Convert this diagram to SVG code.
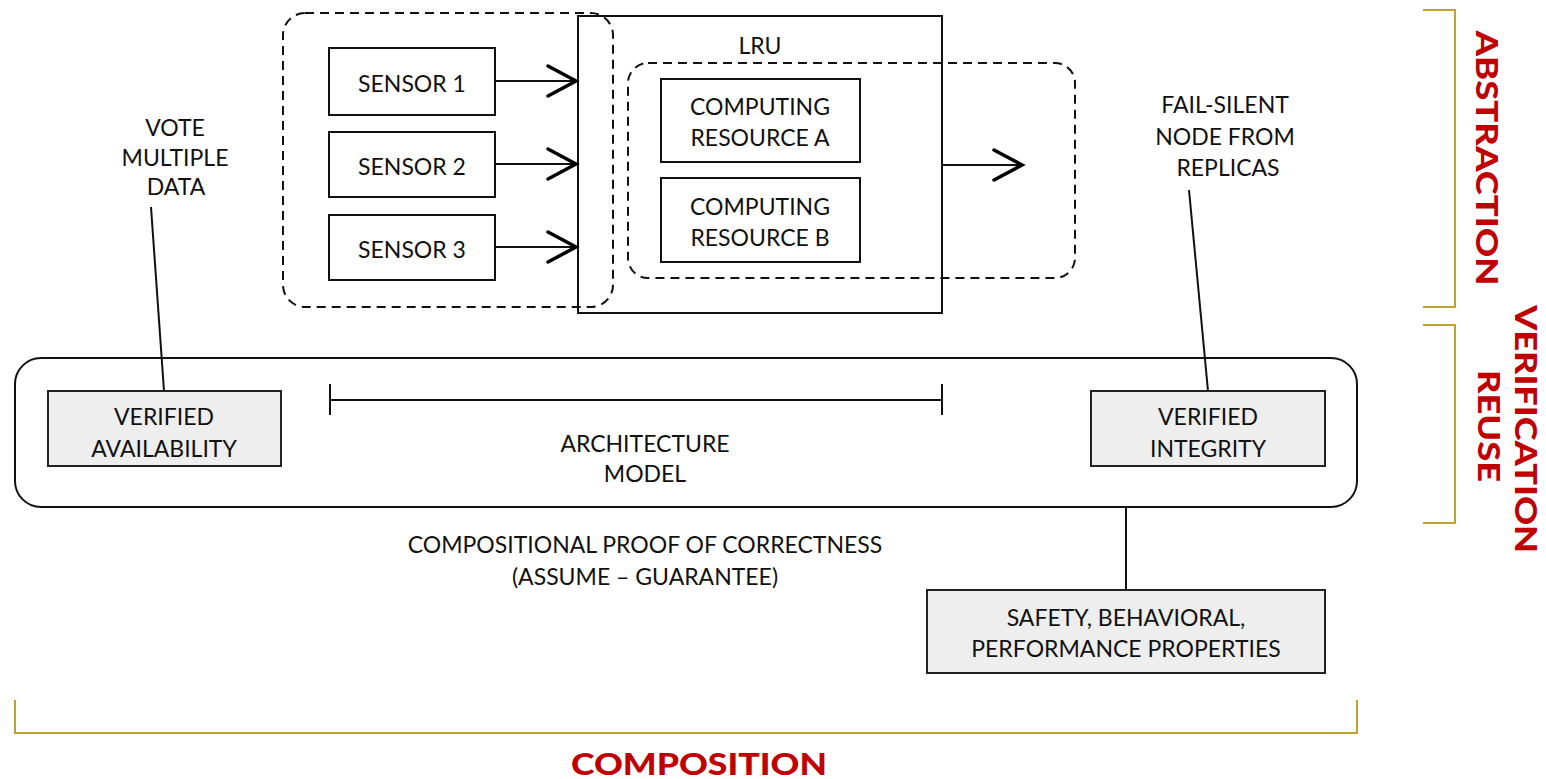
<svg xmlns="http://www.w3.org/2000/svg" width="1546" height="779" viewBox="0 0 1546 779">
<defs>
<style>
.t{font-family:Lato,"Open Sans","Liberation Sans",sans-serif;font-size:23px;fill:#111;text-anchor:middle}
.b{fill:#fff;stroke:#111;stroke-width:2}
.g{fill:#eeeeee;stroke:#222;stroke-width:2}
.d{fill:none;stroke:#111;stroke-width:2;stroke-dasharray:9 6}
.l{fill:none;stroke:#111;stroke-width:2}
.ah{fill:none;stroke:#000;stroke-width:3.5;stroke-linecap:round;stroke-linejoin:miter}
.br{fill:none;stroke:#c2a22c;stroke-width:2}
.r{font-family:Lato,"Open Sans","Liberation Sans",sans-serif;font-weight:900;font-size:31px;fill:#c00000;text-anchor:middle}
</style>
</defs>
<rect width="1546" height="779" fill="#fff"/>

<g id="lru">
<rect class="b" x="578" y="16" width="364" height="297" fill="none"/>
<text class="t" x="760" y="54">LRU</text>
</g>
<g id="sensor-group">
<rect class="d" x="283" y="13" width="330" height="294" rx="22"/>
</g>
<g id="computing-group">
<rect class="d" x="628" y="63" width="447" height="215" rx="20"/>
</g>

<g id="sensor1"><rect class="b" x="329" y="48" width="166" height="67"/><text class="t" x="412" y="92">SENSOR 1</text></g>
<g id="sensor2"><rect class="b" x="329" y="132" width="166" height="65"/><text class="t" x="412" y="175">SENSOR 2</text></g>
<g id="sensor3"><rect class="b" x="329" y="215" width="166" height="65"/><text class="t" x="412" y="258">SENSOR 3</text></g>

<g id="compA"><rect class="b" x="661" y="79" width="199" height="83"/><text class="t" x="760" y="115">COMPUTING</text><text class="t" x="760" y="146">RESOURCE A</text></g>
<g id="compB"><rect class="b" x="661" y="178" width="199" height="84"/><text class="t" x="760" y="215">COMPUTING</text><text class="t" x="760" y="246">RESOURCE B</text></g>

<g id="main-box"><rect x="15" y="358" width="1342" height="149" rx="26" fill="none" stroke="#111" stroke-width="2"/></g>
<g id="avail"><rect class="g" x="48" y="391" width="233" height="75"/><text class="t" x="164" y="425">VERIFIED</text><text class="t" x="164" y="457">AVAILABILITY</text></g>
<g id="integrity"><rect class="g" x="1091" y="391" width="234" height="75"/><text class="t" x="1208" y="425">VERIFIED</text><text class="t" x="1208" y="457">INTEGRITY</text></g>
<g id="safety"><rect class="g" x="927" y="590" width="398" height="83"/><text class="t" x="1126" y="626">SAFETY, BEHAVIORAL,</text><text class="t" x="1126" y="657">PERFORMANCE PROPERTIES</text></g>

<g id="architecture-model">
<line class="l" x1="330" y1="400" x2="942" y2="400"/>
<line class="l" x1="330" y1="384" x2="330" y2="415"/>
<line class="l" x1="942" y1="384" x2="942" y2="415"/>
<text class="t" x="645" y="452">ARCHITECTURE</text>
<text class="t" x="645" y="482">MODEL</text>
</g>

<g id="labels">
<text class="t" x="175" y="136">VOTE</text>
<text class="t" x="175" y="166">MULTIPLE</text>
<text class="t" x="176" y="195">DATA</text>
<text class="t" x="1225" y="113">FAIL-SILENT</text>
<text class="t" x="1225" y="145">NODE FROM</text>
<text class="t" x="1228" y="176">REPLICAS</text>
<text class="t" x="645" y="553">COMPOSITIONAL PROOF OF CORRECTNESS</text>
<text class="t" x="645" y="585">(ASSUME – GUARANTEE)</text>
</g>

<g id="connectors">
<line class="l" x1="495" y1="81" x2="577" y2="81"/>
<polyline class="ah" points="548,66 576,81 548,96"/>
<line class="l" x1="495" y1="164" x2="577" y2="164"/>
<polyline class="ah" points="548,149 576,164 548,179"/>
<line class="l" x1="495" y1="247" x2="577" y2="247"/>
<polyline class="ah" points="548,232 576,247 548,262"/>
<line class="l" x1="942" y1="165" x2="1022" y2="165"/>
<polyline class="ah" points="994,150 1022,165 994,180"/>
<line class="l" x1="151" y1="207" x2="164" y2="391"/>
<line class="l" x1="1189" y1="190" x2="1208" y2="391"/>
<line class="l" x1="1126" y1="507" x2="1126" y2="590"/>
</g>

<g id="brackets">
<polyline class="br" points="1423,10 1455,10 1455,307 1423,307"/>
<polyline class="br" points="1423,325 1455,325 1455,523 1423,523"/>
<polyline class="br" points="15,700 15,733 1357,733 1357,700"/>
<text class="r" transform="translate(1476,158) rotate(90)" textLength="255" lengthAdjust="spacingAndGlyphs">ABSTRACTION</text>
<text class="r" transform="translate(1515,429) rotate(90)" textLength="248" lengthAdjust="spacingAndGlyphs">VERIFICATION</text>
<text class="r" transform="translate(1478,426) rotate(90)" textLength="112" lengthAdjust="spacingAndGlyphs">REUSE</text>
<text class="r" x="699" y="775" textLength="256" lengthAdjust="spacingAndGlyphs">COMPOSITION</text>
</g>
</svg>
